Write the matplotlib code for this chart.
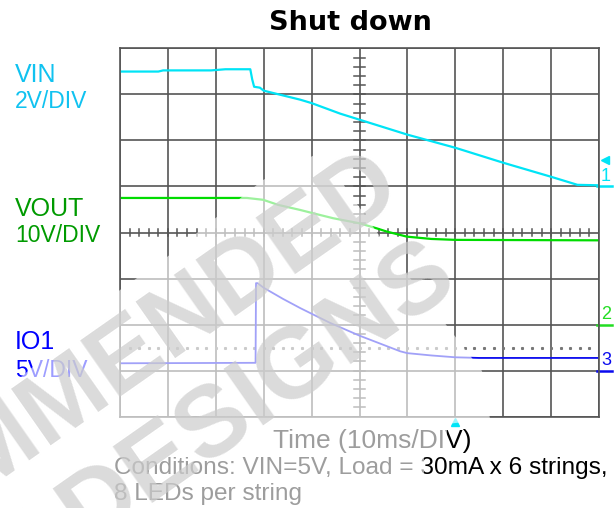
import matplotlib
matplotlib.use("Agg")
import matplotlib.pyplot as plt
from matplotlib.patches import Polygon
import numpy as np

# scope traces, time in ms (10 ms/div), values in volts
vin_t = [0, 8, 9, 19, 22, 27.2, 27.6, 28.0, 29.2, 30.0, 37.6, 40.0, 46.0, 50.0, 60.0, 70.0, 80.0, 90.0, 95.5, 100]
vin_v = [4.99, 4.99, 5.04, 5.04, 5.09, 5.09, 4.65, 4.33, 4.29, 4.16, 3.77, 3.62, 3.16, 2.90, 2.25, 1.68, 1.03, 0.42, 0.07, 0.05]

vout_t = [0, 26.5, 29.9, 33, 37.6, 41, 44.5, 50.0, 53.6, 55.7, 59.9, 65, 70, 100]
vout_v = [27.5, 27.5, 27.1, 26.0, 24.9, 24.0, 23.1, 22.0, 20.9, 20.2, 19.1, 18.6, 18.4, 18.3]

io1_t = [0, 28.3, 28.4, 28.7, 30, 34, 37.6, 43.8, 50, 55, 58.5, 60, 65, 70, 75, 100]
io1_v = [0.8, 0.85, 9.5, 9.5, 9.0, 7.8, 6.8, 5.2, 3.8, 2.8, 2.1, 1.9, 1.65, 1.45, 1.38, 1.38]

# channel: (volts per div, ground position in divs from bottom)
vin_scale, vin_gnd = 2, 5
vout_scale, vout_gnd = 10, 2
io1_scale, io1_gnd = 5, 1

trig_level = 5.57   # div
trig_time = 70      # ms

CYAN = "#00e4f6"
CYAN_TXT = "#10c2f0"
GREEN = "#00dc00"
GREEN_TXT = "#009a00"
BLUE = "#0a0aee"
GRID = "#555555"

W, H = 616, 508


def px(x, y):
    return x / W, 1 - y / H


fig = plt.figure(figsize=(W / 100, H / 100), dpi=100)
ax = fig.add_axes([120 / W, 1 - 416.7 / H, 479 / W, 368.4 / H])
ax.set_xlim(0, 100)
ax.set_ylim(0, 8)
ax.set_xticks(np.arange(0, 101, 10))
ax.set_yticks(np.arange(0, 9, 1))
ax.tick_params(length=0, labelbottom=False, labelleft=False)
ax.grid(True, color=GRID, lw=1.2)
for s in ax.spines.values():
    s.set_color(GRID)
    s.set_linewidth(1.2)

# center cross minor ticks
for x in np.arange(0, 100.1, 2):
    ax.plot([x, x], [4 - 0.08, 4 + 0.08], color=GRID, lw=1.1)
for y in np.arange(0, 8.01, 0.2):
    ax.plot([50 - 1.1, 50 + 1.1], [y, y], color=GRID, lw=1.1)

# dotted cursor line
dots = np.arange(2, 100, 2)
ax.plot(dots, np.full(len(dots), 1.5), ls="none", marker="s", ms=1.2, color="#777777")

# traces
ax.plot(vin_t, vin_gnd + np.array(vin_v) / vin_scale, color=CYAN, lw=1.6)
ax.plot(vout_t, vout_gnd + np.array(vout_v) / vout_scale, color=GREEN, lw=1.6)
ax.plot(io1_t, io1_gnd + np.array(io1_v) / io1_scale, color=BLUE, lw=1.3)

# ground markers on the right
for lab, gnd, col in [("1", vin_gnd, CYAN), ("2", vout_gnd, "#22dd22"), ("3", io1_gnd, BLUE)]:
    ax.text(100.4, gnd + 0.04, lab, color=col, fontsize=13, family="Liberation Sans",
            ha="left", va="bottom", clip_on=False)
    ax.plot([99.5, 102.8], [gnd, gnd], color=col, lw=1.8, clip_on=False)
ax.plot([101.2], [trig_level], marker="<", ms=6, color=CYAN, clip_on=False)
ax.plot([trig_time], [-0.11], marker="^", ms=6, color=CYAN, clip_on=False)

# labels
fig.text(*px(350, 30), "Shut down", fontsize=19.5, weight="bold", family="DejaVu Sans",
         ha="center", va="baseline")
lab_kw = dict(family="Liberation Sans", ha="left", va="baseline")
fig.text(*px(15, 82), "VIN", fontsize=18, color=CYAN_TXT, **lab_kw)
fig.text(*px(15, 108), "2V/DIV", fontsize=16.5, color=CYAN_TXT, **lab_kw)
fig.text(*px(15, 216), "VOUT", fontsize=18, color=GREEN_TXT, **lab_kw)
fig.text(*px(15, 242), "10V/DIV", fontsize=16.5, color=GREEN_TXT, **lab_kw)
fig.text(*px(15, 349), "IO1", fontsize=18, color="#0000ff", **lab_kw)
fig.text(*px(15, 377), "5V/DIV", fontsize=16.5, color="#0000ff", **lab_kw)

fig.text(*px(273, 448), "Time (10ms/DIV)", fontsize=19, **lab_kw)
fig.text(*px(114, 474), "Conditions: VIN=5V, Load = 30mA x 6 strings,", fontsize=17.6, **lab_kw)
fig.text(*px(114, 500), "8 LEDs per string", fontsize=17.6, **lab_kw)

# watermark: whitened band + rotated text
band = [(0, 395), (35, 365), (120, 290), (167, 257), (263, 180), (325, 150), (345, 187),
        (400, 265), (447, 326), (482, 371), (490, 419), (447, 424), (447, 453), (424, 456),
        (424, 508), (0, 508)]
fig.add_artist(Polygon([px(x, y) for x, y in band], closed=True, transform=fig.transFigure,
                       facecolor="white", edgecolor="none", alpha=0.62, zorder=10))
wm_kw = dict(family="Liberation Sans", weight="bold", fontsize=73, rotation=35,
             rotation_mode="anchor", ha="right", va="baseline", color=(0.8, 0.8, 0.8),
             alpha=0.7, zorder=11)
fig.text(*px(406, 197), "NOT RECOMMENDED", **wm_kw)
fig.text(*px(461, 287), "FOR NEW DESIGNS", **wm_kw)

fig.savefig("out.png", dpi=100)
